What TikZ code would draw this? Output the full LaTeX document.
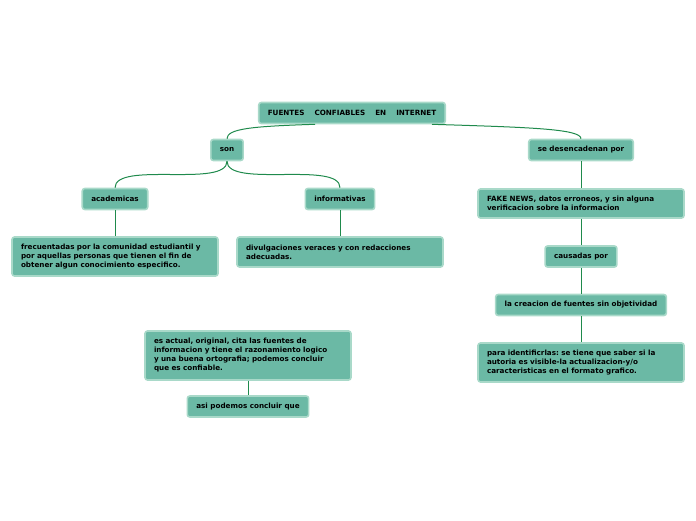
\documentclass[tikz,border=0pt]{standalone}
\usepackage{fontspec}
\setmainfont{DejaVu Sans}
\frenchspacing
\usetikzlibrary{calc}
\definecolor{boxfill}{HTML}{6BB9A5}
\definecolor{boxline}{HTML}{A9D9C9}
\definecolor{linkgreen}{HTML}{1F8A4C}
\tikzset{
  topic/.style={rectangle,rounded corners=2.5pt,fill=boxfill,draw=boxline,line width=1.6pt,
    minimum height=21pt,inner xsep=9pt,inner ysep=5pt,
    font=\fontsize{7.2}{9}\selectfont\bfseries},
  textbox/.style={topic,text width=188pt,align=left},
  link/.style={draw=linkgreen,line width=1pt}
}

\begin{document}
\begin{tikzpicture}[x=1pt,y=-1pt]
\useasboundingbox (0,0) rectangle (696,520);

% Central topic
\node[topic] (root) at (352,113) {FUENTES\ \ \ \ CONFIABLES\ \ \ \ EN\ \ \ \ INTERNET};

% Left branch
\node[topic] (son) at (227,150) {son};
\node[topic] (acad) at (115,199) {academicas};
\node[topic] (info) at (340,199) {informativas};
\node[textbox,minimum height=39pt] (frec) at (115,256.5) {frecuentadas por la comunidad estudiantil y\\por aquellas personas que tienen el fin de\\obtener algun conocimiento especifico.};
\node[textbox,minimum height=30pt] (divul) at (340,252) {divulgaciones veraces y con redacciones\\adecuadas.};

% Right branch
\node[topic] (desen) at (581,150) {se desencadenan por};
\node[textbox,minimum height=29pt] (fake) at (581,203.5) {FAKE NEWS, datos erroneos, y sin alguna\\verificacion sobre la informacion};
\node[topic] (causa) at (581,256.5) {causadas por};
\node[topic] (crea) at (581,305) {la creacion de fuentes sin objetividad};
\node[textbox,minimum height=39pt] (ident) at (581,362.5) {para identificrlas: se tiene que saber si la\\autoria es visible-la actualizacion-y/o\\caracteristicas en el formato grafico.};

% Loose pair at the bottom
\node[textbox,minimum height=49pt] (actual) at (248,355.5) {es actual, original, cita las fuentes de\\informacion y tiene el razonamiento logico\\y una buena ortografia; podemos concluir\\que es confiable.};
\node[topic] (asi) at (248,406.5) {asi podemos concluir que};

% Curved links
\draw[link] ($(root.south)+(-37,0)$) .. controls ($(root.south)+(-100,2)$) and ($(son.north)+(0,-10)$) .. (son.north);
\draw[link] ($(root.south)+(80,0)$) .. controls ($(root.south)+(175,3)$) and ($(desen.north)+(0,-10)$) .. (desen.north);
\draw[link] (son.south) to[out=-90,in=90,looseness=0.6] (acad.north);
\draw[link] (son.south) to[out=-90,in=90,looseness=0.6] (info.north);

% Straight links
\draw[link] (acad) -- (frec);
\draw[link] (info) -- (divul);
\draw[link] (desen) -- (fake);
\draw[link] (fake) -- (causa);
\draw[link] (causa) -- (crea);
\draw[link] (crea) -- (ident);
\draw[link] (actual) -- (asi);

\end{tikzpicture}
\end{document}
